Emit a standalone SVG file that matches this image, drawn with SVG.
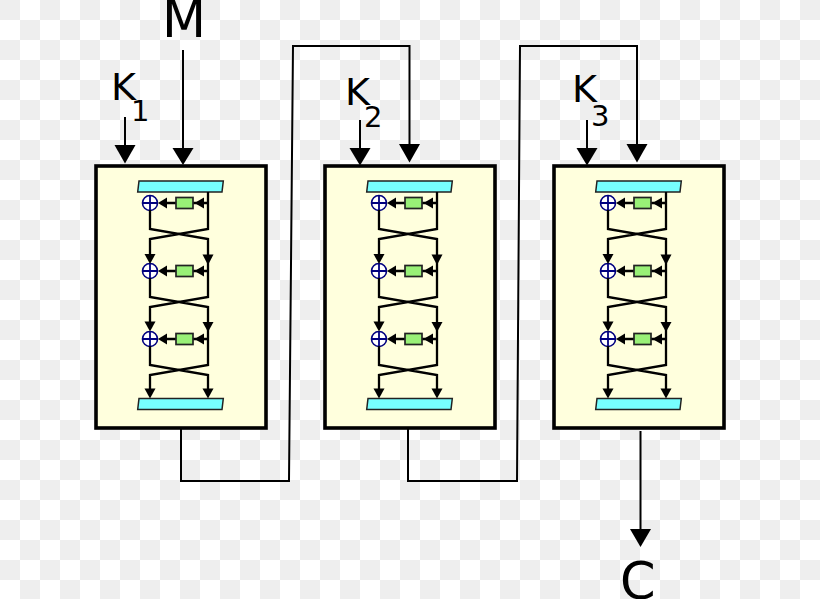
<svg xmlns="http://www.w3.org/2000/svg" xmlns:xlink="http://www.w3.org/1999/xlink" width="820" height="599" viewBox="0 0 820 599">
<style>
.box{fill:#ffffdd;stroke:#000;stroke-width:3.6}
.bar{fill:#77ffff;stroke:#222;stroke-width:1.5}
.f{fill:#99f077;stroke:#222;stroke-width:1.7}
.w{fill:none;stroke:#000;stroke-width:2.3}
.c{fill:none;stroke:#000;stroke-width:2}
.x{fill:#fff;stroke:#00007f;stroke-width:1.6}
.y{fill:none;stroke:#00007f;stroke-width:1.8}
.a{fill:#000}
text{font-family:"DejaVu Sans",sans-serif;fill:#000}
.big{font-size:51px}
.k{font-size:38px}
.s{font-size:29px}
</style>
<defs>
<pattern id="chk" width="40" height="40" patternUnits="userSpaceOnUse">
<rect width="40" height="40" fill="#fff"/>
<rect width="20" height="20" fill="#eeeeee"/>
<rect x="20" y="20" width="20" height="20" fill="#eeeeee"/>
</pattern>
<g id="round">
<circle class="x" cx="150" cy="0" r="7.500"/>
<path class="y" d="M142.500 0H157.500M150 -7.500V7.500"/>
<path class="w" d="M165 0H176M193 0H208"/>
<rect class="f" x="176" y="-5.500" width="17" height="11"/>
<path class="a" d="M158 0L167 -5.500V5.500Z"/>
<path class="a" d="M194.500 0L204 -5.500V5.500Z"/>
</g>
<g id="cipher">
<rect class="box" x="96" y="166" width="170" height="262"/>
<path class="bar" d="M139 181H223.300L222 192H137.700Z"/>
<path class="bar" d="M139 398.500H223.300L222 409.500H137.700Z"/>
<use href="#round" xlink:href="#round" y="203"/>
<use href="#round" xlink:href="#round" y="271"/>
<use href="#round" xlink:href="#round" y="339"/>
<path class="w" d="M208 192V229L150 239V256M150 210V229L208 239V256"/>
<path class="w" d="M150 278V297L208 307V324M208 256V297L150 307V324"/>
<path class="w" d="M150 346V365L208 375V390M208 324V365L150 375V390"/>
<path class="a" d="M150 264L144.500 254H155.500Z"/>
<path class="a" d="M208 265L202.500 254.500H213.500Z"/>
<path class="a" d="M150 331.500L144.500 321.500H155.500Z"/>
<path class="a" d="M208 332L202.500 322H213.500Z"/>
<path class="a" d="M150 398.500L144.500 388.500H155.500Z"/>
<path class="a" d="M208 398.500L202.500 388.500H213.500Z"/>
</g>
</defs>
<rect id="background" width="820" height="599" fill="url(#chk)"/>
<g id="connectors">
<path class="c" d="M125 117V146"/>
<path class="a" d="M125 163.500L114.500 145H135.500Z"/>
<path class="c" d="M183 50V149"/>
<path class="a" d="M183 165L172.500 148H193.500Z"/>
<path class="c" d="M181 429V481H289L293 46H409.500V144"/>
<path class="a" d="M409.500 162.500L399 144H420Z"/>
<path class="c" d="M360 120V149"/>
<path class="a" d="M360 165.500L349.500 148H370.500Z"/>
<path class="c" d="M408 429V481H517L520 46H637V144"/>
<path class="a" d="M637 162.500L626.500 144H647.500Z"/>
<path class="c" d="M587 120V149"/>
<path class="a" d="M587 165.500L576.500 148H597.500Z"/>
<path class="c" d="M640.500 431V530"/>
<path class="a" d="M640.500 547L630 529H651Z"/>
</g>
<g id="node-e1"><use href="#cipher" xlink:href="#cipher"/></g>
<g id="node-d2"><use href="#cipher" xlink:href="#cipher" x="229"/></g>
<g id="node-e3"><use href="#cipher" xlink:href="#cipher" x="458"/></g>
<g id="labels">
<text class="big" x="162" y="37">M</text>
<text class="k" x="111" y="100">K</text>
<text class="s" x="131" y="121">1</text>
<text class="k" x="345" y="105">K</text>
<text class="s" x="364" y="127">2</text>
<text class="k" x="572" y="102">K</text>
<text class="s" x="591" y="126">3</text>
<text class="big" x="620" y="599">C</text>
</g>
</svg>
